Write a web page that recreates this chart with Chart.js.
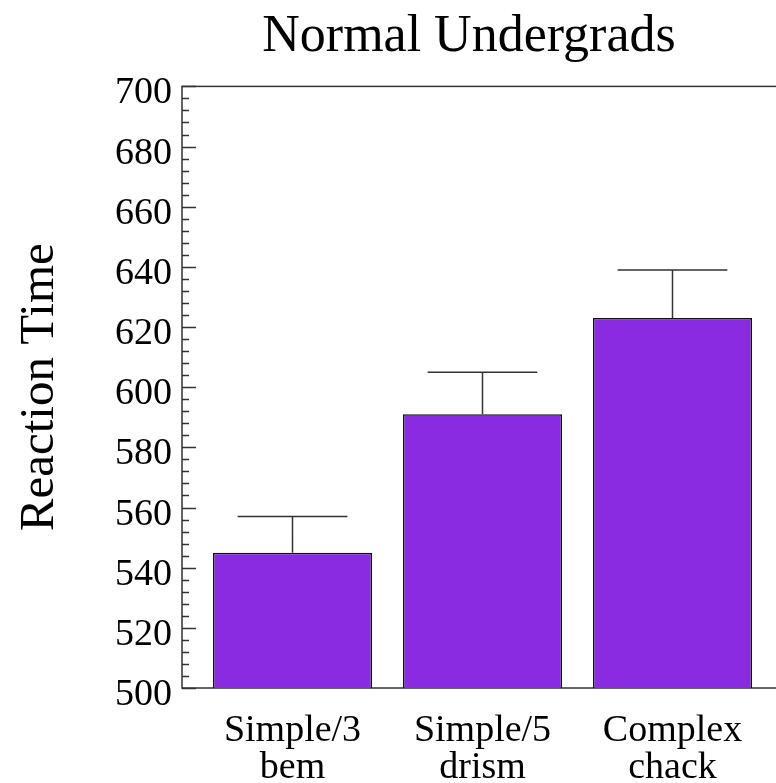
<!DOCTYPE html>
<html>
<head>
<meta charset="utf-8">
<script src="https://cdn.jsdelivr.net/npm/chart.js@4"></script>
<style>
  html, body { margin: 0; padding: 0; overflow: hidden; background: #fff; }
  #wrap { position: absolute; left: 0; top: 0; width: 938px; height: 783px; }
</style>
</head>
<body>
<div id="wrap"><canvas id="rtChart"></canvas></div>
<script>
// Reaction time by condition
const conditions = [['Simple/3', 'bem'], ['Simple/5', 'drism'], ['Complex', 'chack']];
const meanRT = [545, 591, 623];
const errRT = [12, 14, 16];   // upper error bar only
const yMin = 500, yMax = 700, yStep = 20, yMinorStep = 4;

const serif = 'Liberation Serif';

// frame round the plot + inward ticks on the left axis
const framePlugin = {
  id: 'frame',
  beforeDatasetsDraw(chart) {
    const { ctx, chartArea: a, scales: { y } } = chart;
    ctx.save();
    ctx.strokeStyle = '#333';
    ctx.lineWidth = 1.5;
    ctx.strokeRect(a.left, a.top, a.right - a.left, a.bottom - a.top);
    for (let v = yMin; v <= yMax; v += yMinorStep) {
      const py = Math.round(y.getPixelForValue(v)) + 0.5;
      const len = (v - yMin) % yStep === 0 ? 14 : 7;
      ctx.beginPath();
      ctx.moveTo(a.left, py);
      ctx.lineTo(a.left + len, py);
      ctx.stroke();
    }
    ctx.restore();
  }
};

// error bars (upper only)
const errorPlugin = {
  id: 'errbars',
  afterDatasetsDraw(chart) {
    const { ctx, scales: { y } } = chart;
    const meta = chart.getDatasetMeta(0);
    ctx.save();
    ctx.strokeStyle = '#333';
    ctx.lineWidth = 1.5;
    meta.data.forEach((bar, i) => {
      const top = y.getPixelForValue(meanRT[i] + errRT[i]);
      const half = bar.width * 0.345;
      ctx.beginPath();
      ctx.moveTo(bar.x, bar.y);
      ctx.lineTo(bar.x, top);
      ctx.moveTo(bar.x - half, top);
      ctx.lineTo(bar.x + half, top);
      ctx.stroke();
    });
    ctx.restore();
  }
};

new Chart(document.getElementById('rtChart'), {
  type: 'bar',
  data: {
    datasets: [{
      data: meanRT.map((v, i) => ({ x: i, y: v })),
      backgroundColor: '#8a2be2',
      borderColor: '#111',
      borderWidth: 1.5,
      borderSkipped: false,
      barPercentage: 0.837,
      categoryPercentage: 1,
    }],
  },
  options: {
    responsive: true,
    maintainAspectRatio: false,
    animation: false,
    layout: { padding: 0 },
    plugins: {
      legend: { display: false },
      tooltip: { enabled: false },
      title: {
        display: true,
        text: 'Normal Undergrads',
        color: '#000',
        font: { family: serif, size: 52, weight: 'normal' },
        padding: { top: 6, bottom: 18 },
      },
    },
    scales: {
      x: {
        type: 'linear',
        offset: false,
        min: -0.5816,
        max: 2.5816,
        grid: { display: false, drawTicks: false },
        border: { display: false },
        afterBuildTicks(scale) {
          scale.ticks = conditions.map((c, i) => ({ value: i }));
        },
        afterFit(scale) { scale.height = 95; },
        ticks: {
          callback: (v) => conditions[v],
          color: '#000',
          padding: 25,
          maxRotation: 0,
          font: { family: serif, size: 38, lineHeight: 0.97 },
        },
      },
      y: {
        min: yMin,
        max: yMax,
        grid: { display: false, drawTicks: false },
        border: { display: false },
        afterFit(scale) { scale.width = 182; },
        ticks: {
          stepSize: yStep,
          color: '#000',
          padding: 10,
          labelOffset: 7,
          font: { family: serif, size: 38 },
        },
        title: {
          display: true,
          text: 'Reaction Time',
          color: '#000',
          padding: { top: 11, bottom: 0 },
          font: { family: serif, size: 49, weight: 'normal' },
        },
      },
      // empty right-hand axis: keeps the plot running past the window edge
      yRight: {
        position: 'right',
        min: yMin,
        max: yMax,
        grid: { display: false, drawTicks: false },
        border: { display: false },
        ticks: { display: false },
        afterFit(scale) { scale.width = 155; },
      },
    },
  },
  plugins: [framePlugin, errorPlugin],
});
</script>
</body>
</html>
